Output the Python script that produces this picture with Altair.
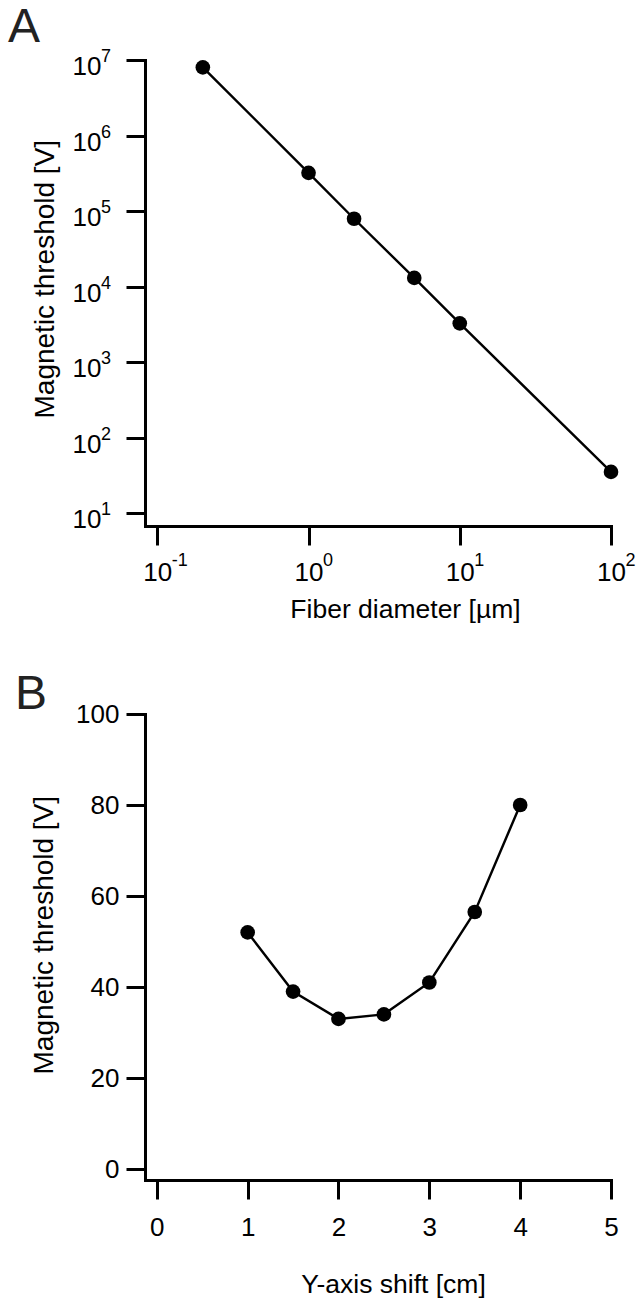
import altair as alt
import pandas as pd

# ---------------- data ----------------
# Panel A: magnetic threshold vs fiber diameter (log-log)
fiber_diameter_um = [0.2, 1, 2, 5, 10, 100]
threshold_A_V = [8.0e6, 3.2e5, 7.9e4, 1.3e4, 3.25e3, 35]

# Panel B: magnetic threshold vs Y-axis shift
yshift_cm = [1, 1.5, 2, 2.5, 3, 3.5, 4]
threshold_B_V = [52, 39, 33, 34, 41, 56.5, 80]

# tick values / labels
xA_ticks = [0.1, 1, 10, 100]
xA_exponents = ["-1", "0", "1", "2"]
yA_ticks = [1e1, 1e2, 1e3, 1e4, 1e5, 1e6, 1e7]
yA_exponents = ["1", "2", "3", "4", "5", "6", "7"]
xB_ticks = [0, 1, 2, 3, 4, 5]
yB_ticks = [0, 20, 40, 60, 80, 100]

FONT = "Liberation Sans"
W = 466
H = 466
PT = 215

# ---------------- panel A ----------------
dfA = pd.DataFrame({"x": fiber_diameter_um, "y": threshold_A_V})
dfAx = pd.DataFrame({"x": xA_ticks, "e": xA_exponents})
dfAy = pd.DataFrame({"y": yA_ticks, "e": yA_exponents})

scaleXA = alt.Scale(type="log", domain=[0.0829, 100], nice=False)
scaleYA = alt.Scale(type="log", domain=[6.73, 1e7], nice=False)

xA_axis = alt.Axis(values=xA_ticks, labelExpr="'10'", title="Fiber diameter [µm]",
                   labelPadding=14, labelBaseline="top", labelAlign="center",
                   titleX=260, titleY=91, titleAlign="center", titleBaseline="alphabetic",
                   titleFontSize=26.5)
yA_axis = alt.Axis(values=yA_ticks, labelExpr="'10'", title="Magnetic threshold [V]",
                   labelPadding=25, labelBaseline="alphabetic", labelOffset=14.5,
                   titleX=-92, titleY=358, titleAngle=270, titleAlign="left",
                   titleBaseline="alphabetic", titleFontSize=28)

encXA = alt.X("x:Q", scale=scaleXA, axis=xA_axis)
encYA = alt.Y("y:Q", scale=scaleYA, axis=yA_axis)

lineA = alt.Chart(dfA).mark_line(color="black", strokeWidth=2.4).encode(x=encXA, y=encYA)
ptsA = alt.Chart(dfA).mark_circle(color="black", size=PT, opacity=1).encode(x=encXA, y=encYA)
expX = alt.Chart(dfAx).mark_text(align="left", baseline="alphabetic", dx=14.5, dy=40,
                                 fontSize=18, font=FONT, color="black").encode(
    x=encXA,
    y=alt.value(H),
    text="e:N",
)
expY = alt.Chart(dfAy).mark_text(align="left", baseline="alphabetic", dx=-44, dy=2,
                                 fontSize=18, font=FONT, color="black").encode(
    x=alt.value(0),
    y=encYA,
    text="e:N",
)

chartA = alt.layer(lineA, ptsA, expX, expY).properties(
    width=W, height=H,
    title=alt.TitleParams("A", anchor="start", frame="group", fontSize=48, font=FONT,
                          fontWeight="normal", color="#222222", dx=-137, offset=-42,
                          baseline="alphabetic"),
)

# ---------------- panel B ----------------
dfB = pd.DataFrame({"x": yshift_cm, "y": threshold_B_V})
scaleXB = alt.Scale(domain=[-0.13, 5], nice=False, zero=False)
scaleYB = alt.Scale(domain=[-2.4, 100], nice=False, zero=False)

xB_axis = alt.Axis(values=xB_ticks, format="d", title="Y-axis shift [cm]",
                   labelPadding=15, labelBaseline="top", labelAlign="center",
                   titleX=248, titleY=112, titleAlign="center", titleBaseline="alphabetic",
                   titleFontSize=26.5)
yB_axis = alt.Axis(values=yB_ticks, format="d", title="Magnetic threshold [V]",
                   labelPadding=7, labelBaseline="middle",
                   titleX=-93, titleY=360, titleAngle=270, titleAlign="left",
                   titleBaseline="alphabetic", titleFontSize=28)

encXB = alt.X("x:Q", scale=scaleXB, axis=xB_axis)
encYB = alt.Y("y:Q", scale=scaleYB, axis=yB_axis)

lineB = alt.Chart(dfB).mark_line(color="black", strokeWidth=2.4).encode(x=encXB, y=encYB)
ptsB = alt.Chart(dfB).mark_circle(color="black", size=PT, opacity=1).encode(x=encXB, y=encYB)

chartB = alt.layer(lineB, ptsB).properties(
    width=W, height=H,
    title=alt.TitleParams("B", anchor="start", frame="group", fontSize=48, font=FONT,
                          fontWeight="normal", color="#222222", dx=-130, offset=-56,
                          baseline="alphabetic"),
)

chart = alt.vconcat(chartA, chartB, spacing=48).properties(
    padding={"left": 8, "top": 4, "right": 0, "bottom": 0},
    background="white",
).configure_view(stroke=None).configure_axis(
    domainColor="black", domainWidth=3, tickColor="black", tickWidth=3, tickSize=19,
    labelFont=FONT, labelFontSize=26, labelColor="black", titleFont=FONT,
    titleFontWeight="normal", titleColor="black", grid=False, labelFlush=False,
    labelOverlap=False, domainCap="square",
)

chart.save("out.html", embed_options={"renderer": "svg", "actions": False})
